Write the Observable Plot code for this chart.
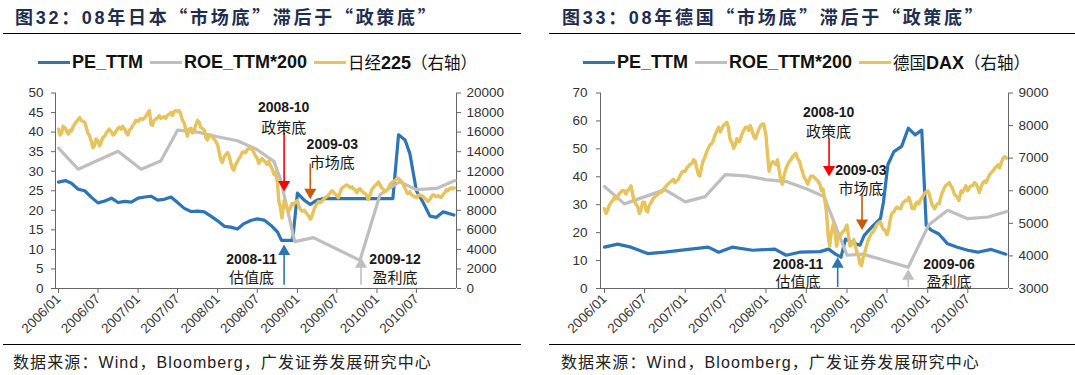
<!DOCTYPE html>
<html><head><meta charset="utf-8">
<script src="https://cdn.jsdelivr.net/npm/d3@7"></script>
<script src="https://cdn.jsdelivr.net/npm/@observablehq/plot@0.6"></script>
<style>
html,body{margin:0;padding:0;background:#fff;}
#root{position:relative;width:1075px;height:375px;overflow:hidden;font-family:"Liberation Sans",Arial,sans-serif;}
.abs{position:absolute;}
.title{font-weight:bold;font-size:18px;color:#1f2d4e;white-space:nowrap;letter-spacing:2.7px;font-family:"Liberation Sans","Noto Sans CJK SC",sans-serif;}
.title .cj{font-family:"Noto Sans CJK SC",sans-serif;}
.rule{height:0;border-top:1.5px solid #000;}
.legend{display:flex;align-items:center;white-space:nowrap;height:22px;}
.sw{display:inline-block;width:32px;height:3px;margin-right:2px;}
.lt{font-weight:bold;font-size:18px;color:#111;margin-right:7px;}
.lt .cj{font-family:"Noto Sans CJK SC",sans-serif;font-weight:400;font-size:16.5px;}
.src{font-size:16px;color:#222;white-space:nowrap;letter-spacing:1.1px;}
.src .cj{font-family:"Noto Sans CJK SC",sans-serif;}
</style></head>
<body><div id="root"></div>
<script>
// ---------------- data ----------------
const xTickLabels = ["2006/01","2006/07","2007/01","2007/07","2008/01","2008/07","2009/01","2009/07","2010/01","2010/07"];

// Japan
const jpLeftTicks = [0,5,10,15,20,25,30,35,40,45,50];
const jpRightTicks = [0,2000,4000,6000,8000,10000,12000,14000,16000,18000,20000];
const jpPeDates = ["2006-01-01","2006-02-01","2006-03-01","2006-04-01","2006-05-01","2006-06-01","2006-07-01","2006-08-01","2006-09-01","2006-10-01","2006-11-01","2006-12-01","2007-01-01","2007-02-01","2007-03-01","2007-04-01","2007-05-01","2007-06-01","2007-07-01","2007-08-01","2007-09-01","2007-10-01","2007-11-01","2007-12-01","2008-01-01","2008-02-01","2008-03-01","2008-04-01","2008-05-01","2008-06-01","2008-07-01","2008-08-01","2008-09-01","2008-10-01","2008-10-20","2008-12-10","2009-01-01","2009-02-01","2009-03-01","2009-04-01","2009-05-01","2010-03-15","2010-04-10","2010-05-10","2010-06-01","2010-07-01","2010-08-01","2010-09-01","2010-10-01","2010-11-01","2010-12-20"];
const jpPeValues = [27.2,27.6,26.9,25.4,25.0,23.3,21.9,22.4,23.1,22.0,22.3,22.1,23.1,23.4,23.6,22.6,22.8,23.4,22.0,20.5,19.7,19.8,19.6,18.5,17.3,15.9,15.7,15.2,16.6,17.4,17.8,17.5,16.2,14.5,12.3,12.3,24.4,22.6,21.5,22.6,23.0,23.0,39.3,38.0,34.5,25.0,22.0,18.5,18.2,19.6,18.8];
const jpRoeDates = ["2006-01-01","2006-04-01","2006-10-01","2007-01-15","2007-04-15","2007-07-01","2007-10-01","2008-01-01","2008-04-01","2008-07-01","2008-09-15","2008-10-15","2008-12-20","2009-03-15","2009-10-15","2010-01-15","2010-04-15","2010-07-01","2010-10-01","2010-12-25"];
const jpRoeValues = [35.9,30.5,35.1,30.5,32.6,40.5,40.0,38.8,37.8,35.5,32.5,28.0,12.0,13.0,7.2,24.0,27.3,25.3,25.6,27.6];
// Nikkei 225, four readings per month, 2006-01 .. 2010-12
const nikkei = [
[16300,15700,15900,16600],[16400,16000,15800,16200],[16100,16500,16800,17000],[17300,17500,17200,17100],
[17000,16500,15900,15700],[15000,14400,14600,15300],[15100,14600,14900,15400],[15600,15900,16100,16300],
[16000,15700,15800,16100],[16400,16500,16300,16600],[16300,15900,15700,16200],[16400,16700,16900,17200],
[17100,17300,17400,17300],[17500,17700,18000,18200],[16800,16700,17200,17300],[17500,17700,17400,17500],
[17600,17400,17700,17800],[18000,17700,18100,18200],[18100,18200,17900,17300],[16900,16200,15600,16300],
[16400,15900,16100,16700],[17200,17000,16500,16400],[16200,15400,15200,15600],[15700,15500,15300,15100],
[14700,13900,13200,12900],[13500,13700,13900,13600],[12900,12300,12100,12600],[13000,13300,13500,13900],
[14000,13900,14200,14300],[14400,14200,13900,13600],[13300,12800,13100,13300],[13100,12900,12700,13000],
[12500,12200,11700,11900],[10900,8900,8300,7200],[9000,8600,8200,7900],[8300,8700,8600,8800],
[9000,8400,8100,7900],[8000,7800,7600,7400],[7100,7300,7900,8300],[8700,8900,8800,8900],
[9100,9300,9400,9500],[9800,10000,9900,9700],[9500,9300,9800,10200],[10400,10500,10600,10500],
[10300,10400,10200,10100],[9800,10100,10200,10000],[9800,9700,9500,9100],[9600,10100,10300,10500],
[10700,10900,10600,10300],[10100,9900,10100,10200],[10600,10800,10900,11000],[11200,11300,11100,11000],
[10700,10300,10000,9700],[9900,9600,9500,9400],[9300,9500,9600,9500],[9400,9200,9100,8900],
[9100,9400,9600,9500],[9400,9500,9400,9300],[9600,9800,10100,10000],[10200,10300,10200,10300]];
const jpNotes = [
 {date:"2008-10-30", y:46.2, label:"2008-10", kind:"num"},
 {date:"2008-10-30", y:41.0, label:"政策底", kind:"cj"},
 {date:"2009-06-10", y:36.9, label:"2009-03", kind:"num"},
 {date:"2009-06-10", y:32.0, label:"市场底", kind:"cj"},
 {date:"2008-06-04", y:7.4, label:"2008-11", kind:"num"},
 {date:"2008-06-04", y:2.6, label:"估值底", kind:"cj"},
 {date:"2010-03-25", y:7.4, label:"2009-12", kind:"num"},
 {date:"2010-03-25", y:2.6, label:"盈利底", kind:"cj"}];
const jpArrows = [
 {date:"2008-11-01", from:39.7, to:25.6, color:"#FF0000"},
 {date:"2009-03-01", from:31.8, to:23.6, color:"#C55A11"},
 {date:"2008-11-01", from:0.8, to:10.5, color:"#2E75B6"},
 {date:"2009-10-20", from:0.8, to:7.2, color:"#BFBFBF"}];

// Germany
const deLeftTicks = [0,10,20,30,40,50,60,70];
const deRightTicks = [3000,4000,5000,6000,7000,8000,9000];
const dePeDates = ["2006-01-01","2006-03-01","2006-05-01","2006-07-15","2006-10-01","2007-01-15","2007-04-15","2007-06-01","2007-08-01","2007-11-01","2008-02-10","2008-04-01","2008-06-01","2008-09-01","2008-10-10","2008-11-10","2008-12-05","2008-12-25","2009-01-20","2009-03-01","2009-03-20","2009-05-01","2009-06-01","2009-06-15","2009-07-05","2009-08-01","2009-09-05","2009-10-05","2009-11-05","2009-12-05","2009-12-25","2010-01-15","2010-02-20","2010-04-01","2010-05-15","2010-07-01","2010-08-15","2010-10-15","2010-12-20"];
const dePeValues = [14.8,15.9,14.8,12.5,13.0,14.0,14.8,13.0,14.8,13.7,14.1,11.9,13.0,13.2,14.1,12.3,11.2,17.7,16.6,15.5,19.0,22.7,25.0,31.0,44.4,49.0,50.9,57.4,55.0,56.7,22.7,21.0,19.5,16.0,14.8,13.7,13.0,14.0,12.3];
const deRoeDates = ["2006-01-01","2006-04-01","2006-10-01","2007-01-01","2007-04-01","2007-07-01","2007-10-01","2008-01-01","2008-04-01","2008-07-01","2008-09-20","2009-01-01","2009-03-15","2009-10-05","2010-01-05","2010-04-01","2010-07-01","2010-10-01","2010-12-25"];
const deRoeValues = [36.5,30.3,35.4,31.0,32.9,40.8,40.3,39.0,38.3,35.7,32.9,11.9,12.3,7.6,22.7,28.0,25.0,25.6,27.6];
// DAX, four readings per month, 2006-01 .. 2010-12
const dax = [
[5450,5300,5400,5550],[5650,5700,5800,5750],[5800,5900,5950,6000],[6000,5900,6000,6050],
[6150,5900,5700,5600],[5500,5300,5400,5650],[5650,5400,5350,5550],[5650,5750,5800,5850],
[5900,5950,5950,6000],[6100,6150,6200,6250],[6300,6350,6250,6300],[6350,6450,6550,6600],
[6600,6700,6750,6800],[6850,6950,6900,6700],[6500,6450,6700,6900],[7050,7200,7300,7400],
[7450,7550,7700,7800],[7950,7800,7900,8000],[8050,8100,7950,7600],[7450,7300,7400,7600],
[7500,7600,7750,7850],[7950,7950,7850,8000],[7800,7650,7600,7750],[7900,8000,8050,8050],
[7700,7100,6600,6800],[6900,6850,6800,6950],[6600,6300,6200,6450],[6700,6800,6900,6950],
[7050,7100,7150,7000],[6900,6700,6550,6400],[6300,6200,6350,6450],[6450,6400,6350,6300],
[6200,6000,6050,5750],[5300,4600,4300,4700],[5000,4700,4300,4600],[4600,4700,4750,4800],
[4950,4600,4300,4350],[4500,4300,4100,4000],[3750,3700,3950,4100],[4350,4500,4600,4700],
[4750,4850,4950,5000],[5050,4900,4800,4800],[4650,4800,5100,5300],[5350,5450,5500,5450],
[5450,5600,5650,5700],[5700,5800,5650,5450],[5450,5600,5650,5600],[5750,5800,5900,5950],
[6000,5900,5700,5550],[5450,5550,5600,5600],[5800,5950,6050,6150],[6200,6250,6150,6100],
[5900,5850,5800,5700],[6000,5950,6050,6150],[6000,6100,6150,6150],[6250,6200,6100,5950],
[6150,6250,6300,6250],[6400,6500,6550,6600],[6700,6750,6800,6700],[6900,7000,7050,7000]];
const deNotes = [
 {date:"2008-10-10", y:63.0, label:"2008-10", kind:"num"},
 {date:"2008-10-10", y:56.0, label:"政策底", kind:"cj"},
 {date:"2009-03-05", y:42.4, label:"2009-03", kind:"num"},
 {date:"2009-03-05", y:35.5, label:"市场底", kind:"cj"},
 {date:"2008-05-25", y:8.7, label:"2008-11", kind:"num"},
 {date:"2008-05-25", y:2.2, label:"估值底", kind:"cj"},
 {date:"2010-04-07", y:8.7, label:"2009-06", kind:"num"},
 {date:"2010-04-07", y:2.2, label:"盈利底", kind:"cj"}];
const deArrows = [
 {date:"2008-10-12", from:53.6, to:41.2, color:"#FF0000"},
 {date:"2009-03-10", from:34.0, to:22.0, color:"#C55A11"},
 {date:"2008-11-20", from:0.4, to:10.1, color:"#2E75B6"},
 {date:"2009-10-05", from:0.4, to:5.8, color:"#BFBFBF"}];

// ---------------- helpers ----------------
const P = d3.utcParse("%Y-%m-%d");
const TL = d3.utcParse("%Y/%m");
const months = d3.utcMonths(P("2006-01-01"), P("2011-01-01"));
const BLUE="#2E75B6", GRAY="#BFBFBF", YEL="#E6C35C";
const FONT = '"Liberation Sans", Arial, sans-serif';
const CJK = '"Noto Sans CJK SC", sans-serif';

function pairs(dates, vals){ return dates.map((d,i)=>({date:P(d), value:vals[i]})); }
function weekly(arr, toLeft){ return arr.flatMap((t,i)=>t.map((v,j)=>({date:d3.utcDay.offset(months[i], j*7), value:toLeft(v)}))); }

function panel(cfg){
  const notes = cfg.notes.map(n=>({...n, date:P(n.date)}));
  const arrows = cfg.arrows.map(a=>({...a, date:P(a.date)}));
  const xt = xTickLabels.map(s=>TL(s));
  const marks = [
    Plot.ruleX([cfg.domain[0]], {y1:cfg.yMax, y2:0, stroke:"#666", strokeWidth:1}),
    Plot.ruleX([cfg.domain[1]], {y1:cfg.yMax, y2:0, stroke:"#666", strokeWidth:1}),
    Plot.ruleY([0], {stroke:"#666", strokeWidth:1}),
    Plot.axisY({anchor:"left", ticks:cfg.leftTicks, tickSize:4, tickPadding:cfg.lp, tickFormat:d=>d, label:null, fontSize:13.5, stroke:"#666", fill:"#333"}),
    Plot.axisY({anchor:"right", ticks:cfg.rightTicks.map(cfg.toLeft), tickSize:4, tickPadding:6, tickFormat:d=>String(Math.round(cfg.fromLeft(d))), label:null, fontSize:13.5, stroke:"#666", fill:"#333"}),
    Plot.axisX({ticks:xt, tickFormat:d3.utcFormat("%Y/%m"), tickRotate:-45, tickSize:5, tickPadding:3, label:null, fontSize:13.5, stroke:"#666", fill:"#3a3a3a"}),
    Plot.line(cfg.pe, {x:"date", y:"value", stroke:BLUE, strokeWidth:3.2, strokeLinejoin:"round"}),
    Plot.line(cfg.roe, {x:"date", y:"value", stroke:GRAY, strokeWidth:3.2, strokeLinejoin:"round"}),
    Plot.line(cfg.idx, {x:"date", y:"value", stroke:YEL, strokeWidth:3.4, strokeLinejoin:"round"}),
  ];
  for (const a of arrows){
    const down = a.to < a.from;
    marks.push(Plot.ruleX([a], {x:"date", y1:"from", y2:"to", stroke:a.color, strokeWidth:1.6}));
    marks.push(Plot.dot([a], {x:"date", y:"to", symbol:"triangle", r:4.5, fill:a.color, stroke:"none", rotate:down?180:0, dy:down?-4:4}));
  }
  marks.push(Plot.text(notes.filter(n=>n.kind==="num"), {x:"date", y:"y", text:"label", fontSize:14, fontWeight:"bold", fill:"#1a1a1a", fontFamily:FONT, textAnchor:"middle", lineAnchor:"middle"}));
  marks.push(Plot.text(notes.filter(n=>n.kind==="cj"), {x:"date", y:"y", text:"label", fontSize:15, fill:"#1a1a1a", fontFamily:CJK, textAnchor:"middle", lineAnchor:"middle"}));
  return Plot.plot({
    width:cfg.width, height:270,
    marginLeft:cfg.ml, marginRight:cfg.mr, marginTop:17.5, marginBottom:57,
    style:{fontFamily:FONT, background:"#fff", color:"#333", overflow:"visible"},
    x:{type:"utc", domain:cfg.domain},
    y:{domain:[0,cfg.yMax]},
    marks
  });
}

// ---------------- build ----------------
const jpK = 50/20000;
const jpTo = v=>v*jpK, jpFrom = v=>v/jpK;
const deTo = v=>(v-3000)*70/6000, deFrom = v=>v*6000/70+3000;

const left = panel({
  width:537, ml:55, mr:81, yMax:50, lp:8,
  domain:[P("2005-12-18"), P("2011-01-01")],
  leftTicks:jpLeftTicks, rightTicks:jpRightTicks, toLeft:jpTo, fromLeft:jpFrom,
  pe:pairs(jpPeDates,jpPeValues), roe:pairs(jpRoeDates,jpRoeValues), idx:weekly(nikkei,jpTo),
  notes:jpNotes, arrows:jpArrows});
const right = panel({
  width:538, ml:63, mr:67, yMax:70, lp:9,
  domain:[P("2005-12-14"), P("2011-01-01")],
  leftTicks:deLeftTicks, rightTicks:deRightTicks, toLeft:deTo, fromLeft:deFrom,
  pe:pairs(dePeDates,dePeValues), roe:pairs(deRoeDates,deRoeValues), idx:weekly(dax,deTo),
  notes:deNotes, arrows:deArrows});

const root = document.getElementById("root");
function add(html, css){ const d=document.createElement("div"); d.className="abs "+(css||""); d.innerHTML=html; root.appendChild(d); return d; }
function place(el, l, t, extra){ el.style.left=l+"px"; el.style.top=t+"px"; if(extra) Object.assign(el.style, extra); return el; }

place(add('<span class="cj">图</span>32<span class="cj">：</span>08<span class="cj">年日本“市场底”滞后于“政策底”</span>', "title"), 15, 3);
place(add('<span class="cj">图</span>33<span class="cj">：</span>08<span class="cj">年德国“市场底”滞后于“政策底”</span>', "title"), 562, 3);
place(add('', "rule"), 3, 33, {width:"518px"});
place(add('', "rule"), 549, 33, {width:"526px"});

function legend(l, idxLabel){
  return place(add(
    `<span class="sw" style="background:${BLUE}"></span><span class="lt">PE_TTM</span>`+
    `<span class="sw" style="background:${GRAY}"></span><span class="lt">ROE_TTM*200</span>`+
    `<span class="sw" style="background:${YEL}"></span><span class="lt">${idxLabel}</span>`, "legend"), l, 51);
}
legend(38, '<span class="cj">日经</span>225<span class="cj">（右轴）</span>');
legend(583, '<span class="cj">德国</span>DAX<span class="cj">（右轴）</span>');

const lw = place(add('', ""), 0, 75); lw.appendChild(left);
const rw = place(add('', ""), 537, 75); rw.appendChild(right);

place(add('', "rule"), 3, 344, {width:"518px"});
place(add('', "rule"), 549, 344, {width:"526px"});
const srcHtml = '<span class="cj">数据来源：</span>Wind<span class="cj">，</span>Bloomberg<span class="cj">，广发证券发展研究中心</span>';
place(add(srcHtml, "src"), 13, 349);
place(add(srcHtml, "src"), 561, 349);
</script></body></html>
